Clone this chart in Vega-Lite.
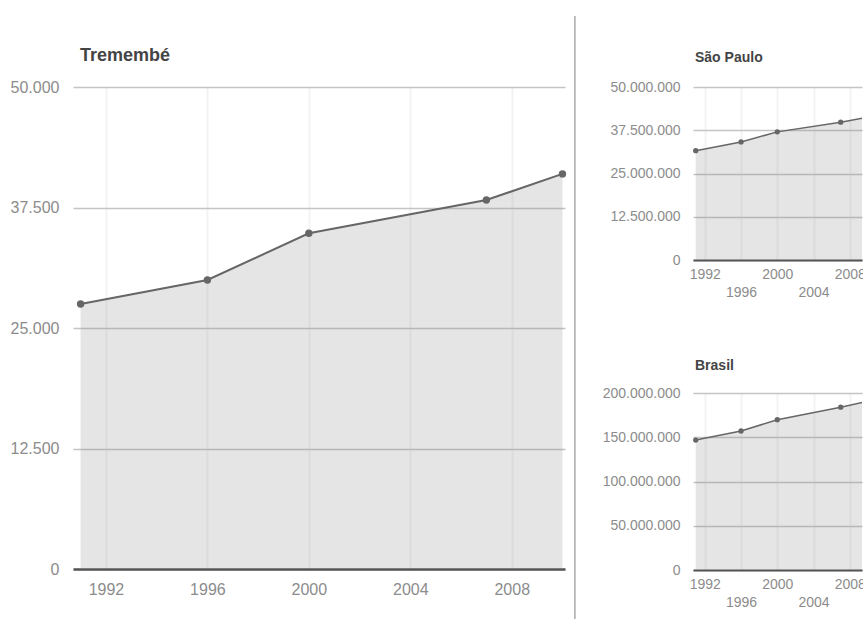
{
  "$schema": "https://vega.github.io/schema/vega-lite/v6.json",
  "background": "white",
  "padding": {"left": 10, "top": 15, "right": 0, "bottom": 0},
  "bounds": "flush",
  "spacing": 128,
  "config": {
    "font": "Liberation Sans",
    "locale": {"number": {"decimal": ",", "thousands": ".", "grouping": [3], "currency": ["R$", ""]}},
    "view": {"stroke": null},
    "axis": {"ticks": false, "tickSize": 0, "title": null, "labelColor": "#8c8c8c", "labelFont": "Liberation Sans"},
    "title": {"anchor": "start", "frame": "group", "fontWeight": "bold", "color": "#444444", "font": "Liberation Sans"}
  },
  "datasets": {
    "trem": [
      {"year": 1991, "pop": 27490},
      {"year": 1996, "pop": 29980},
      {"year": 2000, "pop": 34823},
      {"year": 2007, "pop": 38280},
      {"year": 2010, "pop": 40984}
    ],
    "sp": [
      {"year": 1991, "pop": 31588925},
      {"year": 1996, "pop": 34120886},
      {"year": 2000, "pop": 37032403},
      {"year": 2007, "pop": 39827570},
      {"year": 2010, "pop": 41262199}
    ],
    "br": [
      {"year": 1991, "pop": 146825475},
      {"year": 1996, "pop": 157070163},
      {"year": 2000, "pop": 169799170},
      {"year": 2007, "pop": 183987291},
      {"year": 2010, "pop": 190755799}
    ]
  },
  "hconcat": [
    {
      "width": 492,
      "height": 482,
      "title": {"text": "Tremembé", "fontSize": 18, "offset": -50, "dx": 7},
      "layer": [
        {
          "data": {"name": "trem"},
          "mark": {"type": "area", "color": "#888888", "opacity": 0.22},
          "encoding": {
            "x": {"field": "year", "type": "quantitative",
              "scale": {"domain": [1990.7, 2010.1], "nice": false, "zero": false},
              "axis": {"values": [1992, 1996, 2000, 2004, 2008], "format": "d", "labelFontSize": 16, "labelPadding": 12,
                "domainColor": "#555555", "domainWidth": 2.5, "gridColor": "#f3f3f3", "gridWidth": 2}},
            "y": {"field": "pop", "type": "quantitative",
              "scale": {"domain": [0, 50000], "nice": false},
              "axis": {"values": [0, 12500, 25000, 37500, 50000], "format": ",d", "labelFontSize": 16, "labelPadding": 14,
                "domain": false, "gridColor": "#c4c4c4", "gridWidth": 1.5}}
          }
        },
        {
          "data": {"name": "trem"},
          "mark": {"type": "line", "color": "#666666", "strokeWidth": 2},
          "encoding": {
            "x": {"field": "year", "type": "quantitative"},
            "y": {"field": "pop", "type": "quantitative"}
          }
        },
        {
          "data": {"name": "trem"},
          "mark": {"type": "point", "filled": true, "color": "#666666", "size": 55, "opacity": 1},
          "encoding": {
            "x": {"field": "year", "type": "quantitative"},
            "y": {"field": "pop", "type": "quantitative"}
          }
        },
        {
          "data": {"values": [{}]},
          "mark": {"type": "rule", "color": "#a8a8a8", "strokeWidth": 1.5},
          "encoding": {
            "x": {"datum": 2010.49, "type": "quantitative"},
            "y": {"datum": 57365, "type": "quantitative"},
            "y2": {"datum": -5187}
          }
        }
      ]
    },
    {
      "bounds": "flush",
      "spacing": 133,
      "vconcat": [
        {
          "width": 169,
          "height": 173,
          "title": {"text": "São Paulo", "fontSize": 14, "offset": 15, "dx": 2},
          "layer": [
            {
              "data": {"name": "sp"},
              "mark": {"type": "area", "color": "#888888", "opacity": 0.22, "clip": true},
              "encoding": {
                "x": {"field": "year", "type": "quantitative",
                  "scale": {"domain": [1990.7, 2009.35], "nice": false, "zero": false},
                  "axis": {"values": [1992, 1996, 2000, 2004, 2008], "format": "d", "labelFontSize": 14, "labelPadding": 7,
                    "labelExpr": "datum.value % 8 == 0 ? datum.label : ['', datum.label]", "labelLineHeight": 18,
                    "domainColor": "#555555", "domainWidth": 2, "gridColor": "#f3f3f3", "gridWidth": 2}},
                "y": {"field": "pop", "type": "quantitative",
                  "scale": {"domain": [0, 50000000], "nice": false},
                  "axis": {"values": [0, 12500000, 25000000, 37500000, 50000000], "format": ",d", "labelFontSize": 14, "labelPadding": 13,
                    "domain": false, "gridColor": "#c4c4c4", "gridWidth": 1.5}}
              }
            },
            {
              "data": {"name": "sp"},
              "mark": {"type": "line", "color": "#666666", "strokeWidth": 1.5, "clip": true},
              "encoding": {
                "x": {"field": "year", "type": "quantitative"},
                "y": {"field": "pop", "type": "quantitative"}
              }
            },
            {
              "data": {"name": "sp"},
              "mark": {"type": "point", "filled": true, "color": "#666666", "size": 28, "opacity": 1, "clip": true},
              "encoding": {
                "x": {"field": "year", "type": "quantitative"},
                "y": {"field": "pop", "type": "quantitative"}
              }
            }
          ]
        },
        {
          "width": 169,
          "height": 177,
          "title": {"text": "Brasil", "fontSize": 14, "offset": 13, "dx": 2},
          "layer": [
            {
              "data": {"name": "br"},
              "mark": {"type": "area", "color": "#888888", "opacity": 0.22, "clip": true},
              "encoding": {
                "x": {"field": "year", "type": "quantitative",
                  "scale": {"domain": [1990.7, 2009.35], "nice": false, "zero": false},
                  "axis": {"values": [1992, 1996, 2000, 2004, 2008], "format": "d", "labelFontSize": 14, "labelPadding": 7,
                    "labelExpr": "datum.value % 8 == 0 ? datum.label : ['', datum.label]", "labelLineHeight": 18,
                    "domainColor": "#555555", "domainWidth": 2, "gridColor": "#f3f3f3", "gridWidth": 2}},
                "y": {"field": "pop", "type": "quantitative",
                  "scale": {"domain": [0, 200000000], "nice": false},
                  "axis": {"values": [0, 50000000, 100000000, 150000000, 200000000], "format": ",d", "labelFontSize": 14, "labelPadding": 13,
                    "domain": false, "gridColor": "#c4c4c4", "gridWidth": 1.5}}
              }
            },
            {
              "data": {"name": "br"},
              "mark": {"type": "line", "color": "#666666", "strokeWidth": 1.5, "clip": true},
              "encoding": {
                "x": {"field": "year", "type": "quantitative"},
                "y": {"field": "pop", "type": "quantitative"}
              }
            },
            {
              "data": {"name": "br"},
              "mark": {"type": "point", "filled": true, "color": "#666666", "size": 28, "opacity": 1, "clip": true},
              "encoding": {
                "x": {"field": "year", "type": "quantitative"},
                "y": {"field": "pop", "type": "quantitative"}
              }
            }
          ]
        }
      ]
    }
  ]
}
